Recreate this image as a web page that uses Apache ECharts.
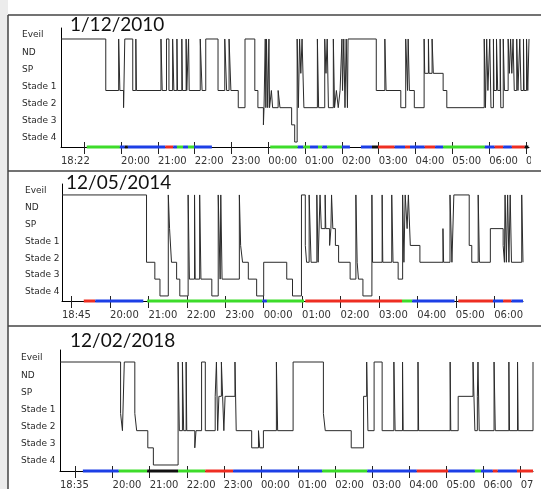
<!DOCTYPE html>
<html><head><meta charset="utf-8">
<script src="https://cdn.jsdelivr.net/npm/echarts@6/dist/echarts.min.js"></script>
<style>html,body{margin:0;padding:0;background:#fff}#c{width:541px;height:489px}</style>
</head><body><div id="c"></div>
<script>
// ---------- DATA ----------
const stageNames = ['Stade 4','Stade 3','Stade 2','Stade 1','SP','ND','Eveil']; // 0..6
const nightTitles = ['1/12/2010','12/05/2014','12/02/2018'];
const nightStarts = ['18:22','18:45','18:35'];
const nightDurations = [763, 720, 765]; // minutes recorded

// minutes since start of recording / stage code (6=Eveil ... 0=Stade 4)
const night1Times = [0,73,94,96,102,104,117,122,123,163,165,172,176,182,184,189,190,197,198,204,205,208,209,227,230,236,256,267,270,274,277,289,300,316,321,330,331,333,334,335,337,339,340,343,345,354,357,376,381,385,387,389,391,393,396,418,420,430,432,434,436,444,446,449,452,455,458,459,461,463,465,467,468,514,528,530,554,562,565,566,568,576,592,593,599,600,605,607,623,629,690,692,694,696,699,701,705,706,710,712,716,717,721,723,729,731,733,735,737,739,743,745,748,750,754,755,759,761,763];
const night1Stages = [6,3,6,3,2,6,3,6,3,6,3,6,3,6,3,6,3,6,3,6,3,6,3,6,3,6,3,6,3,6,3,2,6,3,2,1,2,6,2,6,2,6,2,3,2,3,2,1,0,6,2,6,4,6,2,6,2,6,4,6,2,6,2,3,2,3,6,3,6,2,6,2,6,3,6,3,2,6,3,6,3,2,6,4,6,4,6,4,3,2,6,2,6,3,6,2,6,3,6,3,6,2,6,3,6,4,6,4,6,3,6,3,6,3,6,3,6,3,6];

const night2Times = [0,132,145,153,166,168,171,179,184,197,199,207,208,215,217,234,244,247,248,250,277,279,282,291,304,315,351,360,374,380,382,386,389,398,400,403,405,411,412,418,420,421,423,427,432,450,459,461,463,470,484,485,500,501,515,517,525,532,534,536,539,541,544,559,595,596,606,609,612,636,640,650,652,669,689,691,692,694,696,698,700,702,718,720];
const night2Stages = [6,2,1,0,6,4,2,1,0,6,1,6,1,6,1,0,6,1,6,1,6,3,2,1,0,2,1,0,6,3,2,6,2,6,2,6,4,6,4,3,4,6,4,3,2,1,6,2,1,0,6,2,6,2,6,2,1,6,2,6,4,6,3,2,4,2,6,2,6,3,2,6,2,4,3,2,6,2,6,2,6,2,6,2];

const night3Times = [0,98,101,104,121,124,142,151,191,193,198,200,204,205,218,220,229,235,251,253,255,257,261,263,265,267,283,285,310,321,323,329,350,352,377,426,429,471,491,496,498,508,521,540,542,554,555,579,580,631,632,644,668,671,675,676,678,702,704,726,727,740,741,765];
const night3Stages = [6,3,2,6,3,2,1,0,6,2,6,2,6,2,1,2,6,2,4,6,2,4,6,4,2,4,6,2,1,2,1,2,6,2,6,3,2,1,4,6,2,6,2,6,2,6,2,6,2,6,2,4,6,2,4,6,2,6,2,6,2,6,2,6];

// coloured band under each hypnogram: start, end (minutes), class code
const night1BandStart = [42,96,104,109,170,183,189,199,207,217,341,386,395,406,419,426,434,458,489,507,517,544,561,569,593,610,623,691,707,721,735,756];
const night1BandEnd   = [96,104,109,170,183,189,199,207,217,246,386,395,406,419,426,434,458,471,507,517,544,561,569,593,610,623,691,707,721,735,756,762];
const night1BandCode  = ['G','B','K','B','R','B','G','B','G','B','G','B','G','B','G','B','G','B','B','K','R','B','R','B','R','B','G','B','R','B','R','K'];

const night2BandStart = [34,52,133,313,320,380,531,547,619,673,689,702];
const night2BandEnd   = [52,127,313,320,378,531,547,613,673,689,702,720];
const night2BandCode  = ['R','B','G','B','G','R','G','B','R','B','R','B'];

const night3BandStart = [37,95,141,191,235,280,424,497,577,628,671,681,700,708,739];
const night3BandEnd   = [95,141,191,235,280,424,497,577,628,671,681,700,708,739,765];
const night3BandCode  = ['B','G','K','G','R','B','G','B','R','B','G','B','R','B','R'];

// ---------- STYLE / LAYOUT ----------
const bandColors = {G:'#3ddc2a', B:'#1c3fe6', R:'#ee2e22', K:'#111111'};
const panels = [
  {left:61, top:28,  width:468, height:119, ymin:-0.29, ymax:6.64, tx:70, ty:24.5, lm:39},
  {left:62, top:184, width:461, height:117, ymin:-0.30, ymax:6.65, tx:66, ty:183,  lm:37},
  {left:60, top:350, width:473, height:121, ymin:-0.35, ymax:6.70, tx:70, ty:340.5, lm:39}
];
const nights = [
  {t:night1Times, s:night1Stages, bs:night1BandStart, be:night1BandEnd, bc:night1BandCode},
  {t:night2Times, s:night2Stages, bs:night2BandStart, be:night2BandEnd, bc:night2BandCode},
  {t:night3Times, s:night3Stages, bs:night3BandStart, be:night3BandEnd, bc:night3BandCode}
];

function toMin(s){const p=s.split(':').map(Number);return p[0]*60+p[1];}
function clock(st, v){let t=Math.round(st+v)%1440;const h=Math.floor(t/60),m=t%60;return String(h).padStart(2,'0')+':'+String(m).padStart(2,'0');}
function hourTicks(st, dur){const a=[];for(let v=Math.ceil(st/60)*60-st; v<=dur; v+=60)a.push(v);return a;}

const grid=[], xAxis=[], yAxis=[], series=[], graphic=[];
graphic.push({type:'rect', shape:{x:0,y:0,width:8,height:489}, style:{fill:'#ececec'}, z:-1});
panels.forEach((p,i)=>{
  const st = toMin(nightStarts[i]), dur = nightDurations[i];
  const ticks = hourTicks(st, dur);
  const labels = [0].concat(ticks.slice(1));
  grid.push({left:p.left, top:p.top, width:p.width, height:p.height, containLabel:false, outerBoundsMode:'none'});
  xAxis.push({type:'value', gridIndex:i, min:0, max:dur, position:'bottom',
    axisLine:{show:true, onZero:false, lineStyle:{color:'#000', width:1}},
    axisTick:{show:true, length:7, customValues:ticks, lineStyle:{color:'#222'}},
    splitLine:{show:false},
    axisLabel:{customValues:labels, formatter:v=>clock(st,v), align:'left', margin:9,
      fontSize:10, fontFamily:'DejaVu Sans', color:'#333'}});
  xAxis.push({type:'value', gridIndex:i, min:0, max:dur, position:'bottom',
    axisLine:{show:false, onZero:false},
    axisTick:{show:true, inside:true, length:5, customValues:ticks, lineStyle:{color:'#222'}},
    splitLine:{show:false}, axisLabel:{show:false}});
  yAxis.push({type:'value', gridIndex:i, min:p.ymin, max:p.ymax,
    axisLine:{show:true, onZero:false, lineStyle:{color:'#000', width:1}},
    axisTick:{show:false}, splitLine:{show:false},
    axisLabel:{customValues:[0,1,2,3,4,5,6], formatter:v=>stageNames[Math.round(v)], margin:p.lm, align:'left',
      fontSize:9, fontFamily:'DejaVu Sans', color:'#2a2a2a', verticalAlign:'bottom', lineHeight:8}});
  const n = nights[i];
  series.push({type:'line', xAxisIndex:2*i, yAxisIndex:i, step:'end', symbol:'none', animation:false,
    lineStyle:{color:'#2a2a2a', width:1}, data:n.t.map((t,k)=>[t,n.s[k]]), z:3});
  const ymin = p.ymin;
  series.push({type:'custom', xAxisIndex:2*i, yAxisIndex:i, animation:false, clip:false, silent:true, z:5,
    data:n.bs.map((s,k)=>({value:[s,n.be[k]], itemStyle:{color:bandColors[n.bc[k]]}})),
    encode:{x:[0,1]},
    renderItem:(params, api)=>{
      const a=api.coord([api.value(0), ymin]), b=api.coord([api.value(1), ymin]);
      return {type:'rect', shape:{x:a[0], y:a[1]-1.5, width:b[0]-a[0], height:3}, style:{fill:api.visual('color')}};
    }});
  graphic.push({type:'text', x:p.tx, y:p.ty, z:50,
    style:{text:nightTitles[i], fontSize:19, fontFamily:'Lato', fill:'#111', verticalAlign:'middle', textVerticalAlign:'middle'}});
});
// panel frames and right-edge crop
[15,171,326].forEach(y=>graphic.push({type:'line', shape:{x1:8,y1:y,x2:541,y2:y}, style:{stroke:'#444', lineWidth:1.5}, z:60}));
graphic.push({type:'line', shape:{x1:8,y1:15,x2:8,y2:489}, style:{stroke:'#444', lineWidth:1.5}, z:60});
graphic.push({type:'rect', shape:{x:531,y:16,width:10,height:154}, style:{fill:'#fff'}, z:55});
graphic.push({type:'rect', shape:{x:534,y:327,width:7,height:162}, style:{fill:'#fff'}, z:55});

const chart = echarts.init(document.getElementById('c'), null, {renderer:'canvas'});
chart.setOption({animation:false, backgroundColor:'#fff', grid, xAxis, yAxis, series, graphic});
</script></body></html>
